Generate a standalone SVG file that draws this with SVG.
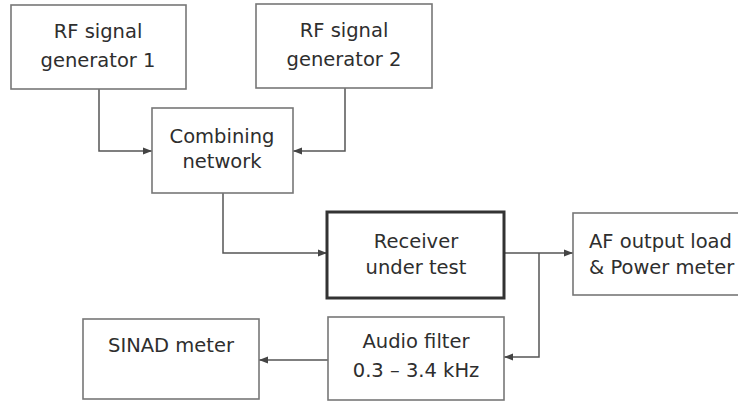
<svg xmlns="http://www.w3.org/2000/svg" width="738" height="402" viewBox="0 0 738 402">
<defs>
<marker id="ah" markerWidth="10" markerHeight="8" refX="9" refY="4" orient="auto" markerUnits="userSpaceOnUse">
<path d="M0,0.5 L9,4 L0,7.5 Z" fill="#444"/>
</marker>
<style>
.box{fill:#fff;stroke:#777;stroke-width:1.6}
.thick{fill:#fff;stroke:#333;stroke-width:3}
.lbl{font-family:"DejaVu Sans","Liberation Sans",sans-serif;font-size:19.5px;fill:#2e2e2e;text-anchor:middle}
.lft{text-anchor:start}
.wire{fill:none;stroke:#555;stroke-width:1.5;marker-end:url(#ah)}
</style>
</defs>
<rect width="738" height="402" fill="#fff"/>
<g id="connectors">
<path class="wire" d="M99,89 V151 H152"/>
<path class="wire" d="M345,88 V151 H293"/>
<path class="wire" d="M223,193 V253 H327"/>
<path class="wire" d="M504,253 H573"/>
<path class="wire" d="M539,253 V357 H504"/>
<path class="wire" d="M328,360 H259"/>
</g>
<g id="gen1">
<rect class="box" x="11" y="5" width="175" height="84"/>
<text class="lbl" x="98" y="38">RF signal</text>
<text class="lbl" x="98" y="67">generator 1</text>
</g>
<g id="gen2">
<rect class="box" x="256" y="4" width="176" height="84"/>
<text class="lbl" x="344" y="37">RF signal</text>
<text class="lbl" x="344" y="66">generator 2</text>
</g>
<g id="combiner">
<rect class="box" x="152" y="108" width="141" height="85"/>
<text class="lbl" x="222" y="143">Combining</text>
<text class="lbl" x="222" y="168">network</text>
</g>
<g id="receiver">
<rect class="thick" x="327" y="212" width="177" height="86"/>
<text class="lbl" x="416" y="248">Receiver</text>
<text class="lbl" x="416" y="274">under test</text>
</g>
<g id="afload">
<rect class="box" x="573" y="213" width="200" height="82"/>
<text class="lbl lft" x="589" y="248">AF output load</text>
<text class="lbl lft" x="589" y="274">&amp; Power meter</text>
</g>
<g id="audiofilter">
<rect class="box" x="328" y="317" width="176" height="83"/>
<text class="lbl" x="416" y="348">Audio filter</text>
<text class="lbl" x="416" y="377">0.3 – 3.4 kHz</text>
</g>
<g id="sinad">
<rect class="box" x="83" y="319" width="176" height="80"/>
<text class="lbl" x="171" y="352">SINAD meter</text>
</g>
</svg>
